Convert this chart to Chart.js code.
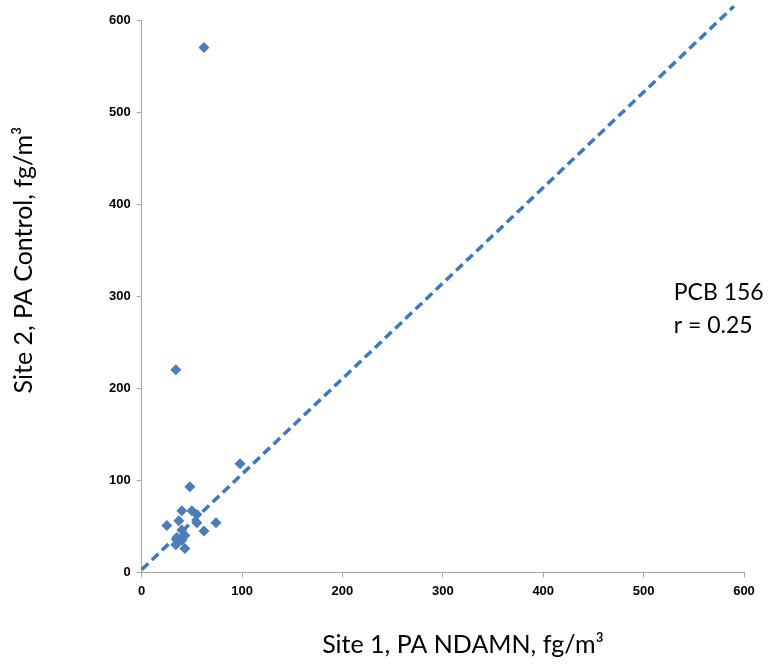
<!DOCTYPE html>
<html>
<head>
<meta charset="utf-8">
<script src="https://cdn.jsdelivr.net/npm/chart.js@4"></script>
<style>
  html, body { margin: 0; padding: 0; background: #fff; }
  #wrap { width: 768px; height: 667px; position: relative; }
</style>
</head>
<body>
<div id="wrap"><canvas id="chart"></canvas></div>
<script>
// datos
const siteOne = [98, 48, 40, 50, 55, 37, 25, 55, 74, 62, 40, 35, 40, 43, 40, 34, 43, 62, 34];
const siteTwo = [118, 93, 67, 67, 63, 56, 51, 54, 54, 45, 46, 38, 38, 40, 35, 30, 26, 570, 220];
const refLineX = [0, 590];
const refLineY = [3, 615];
const axisTicks = [0, 100, 200, 300, 400, 500, 600];
const labelLines = ['PCB 156', 'r = 0.25'];
const labelAt = [530, 304, 268]; // x, y de cada linea

const blue = '#4a7ebb';
const lineBlue = '#3b79c1';
const axisGray = '#a6a6a6';

// titulos de ejes y texto dentro del grafico
const extraText = {
  id: 'extraText',
  afterDraw(chart) {
    const { ctx, chartArea, scales } = chart;
    ctx.save();
    ctx.fillStyle = '#000';
    ctx.textBaseline = 'middle';
    ctx.textAlign = 'left';
    ctx.font = '23px Lato, "Open Sans", sans-serif';
    labelLines.forEach((t, i) => {
      ctx.fillText(t, scales.x.getPixelForValue(labelAt[0]), scales.y.getPixelForValue(labelAt[i + 1]));
    });
    ctx.font = '25px Lato, "Open Sans", sans-serif';
    ctx.textAlign = 'center';
    ctx.fillText('Site 1, PA NDAMN, fg/m³', 463, 645);
    ctx.translate(24, 260);
    ctx.rotate(-Math.PI / 2);
    ctx.fillText('Site 2, PA Control, fg/m³', 0, 0);
    ctx.restore();
  }
};

const points = siteOne.map((x, i) => ({ x: x, y: siteTwo[i] }));
const refLine = refLineX.map((x, i) => ({ x: x, y: refLineY[i] }));

const tickOpts = {
  color: '#000',
  font: { family: 'Arial, "Liberation Sans", sans-serif', size: 13, weight: 'bold' },
  padding: 6,
  autoSkip: false
};

new Chart(document.getElementById('chart'), {
  type: 'scatter',
  data: {
    datasets: [
      {
        label: 'PCB 156',
        data: points,
        pointStyle: 'rectRot',
        pointRadius: 5.5,
        pointHoverRadius: 5.5,
        backgroundColor: blue,
        borderColor: blue,
        borderWidth: 0,
        order: 1
      },
      {
        type: 'line',
        label: '1:1',
        data: refLine,
        borderColor: lineBlue,
        borderWidth: 3.5,
        borderDash: [9, 5],
        pointRadius: 0,
        fill: false,
        clip: false,
        order: 2
      }
    ]
  },
  options: {
    responsive: true,
    maintainAspectRatio: false,
    animation: false,
    layout: { padding: { left: 103, right: 24, top: 20, bottom: 62 } },
    plugins: {
      legend: { display: false },
      tooltip: { enabled: false }
    },
    scales: {
      x: {
        type: 'linear',
        min: 0,
        max: 600,
        afterBuildTicks: (s) => { s.ticks = axisTicks.map(v => ({ value: v })); },
        ticks: tickOpts,
        grid: { drawOnChartArea: false, drawTicks: true, tickLength: 5, color: axisGray },
        border: { color: axisGray, width: 1 }
      },
      y: {
        type: 'linear',
        min: 0,
        max: 600,
        afterBuildTicks: (s) => { s.ticks = axisTicks.map(v => ({ value: v })); },
        ticks: tickOpts,
        grid: { drawOnChartArea: false, drawTicks: true, tickLength: 5, color: axisGray },
        border: { color: axisGray, width: 1 }
      }
    }
  },
  plugins: [extraText]
});
</script>
</body>
</html>
